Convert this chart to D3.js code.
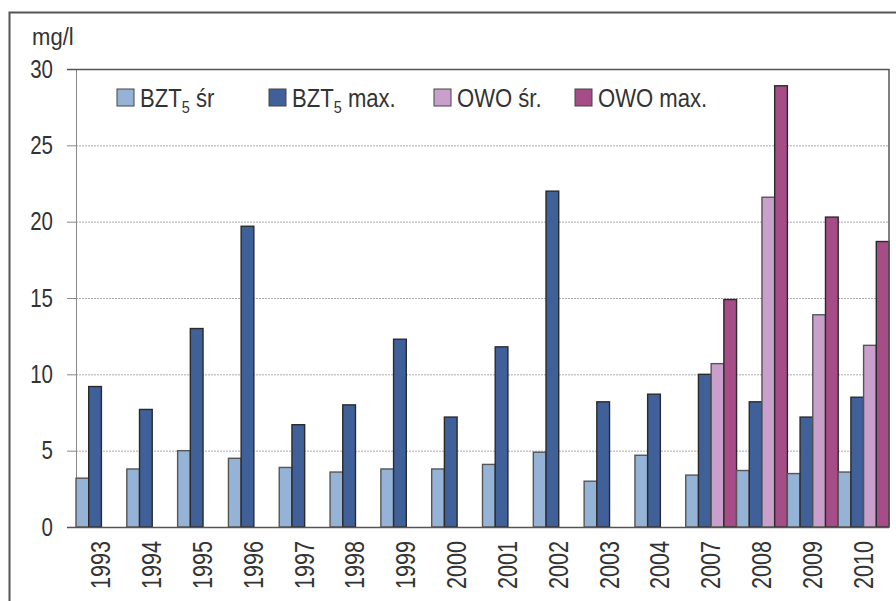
<!DOCTYPE html>
<html>
<head>
<meta charset="utf-8">
<script src="https://cdn.jsdelivr.net/npm/d3@7"></script>
<style>
  body { margin: 0; background: #fff; }
  text { font-family: "Liberation Sans", Arial, sans-serif; fill: #333; }
</style>
</head>
<body>
<script>
const width = 896;
const height = 601;

const years = ["1993", "1994", "1995", "1996", "1997", "1998", "1999", "2000",
  "2001", "2002", "2003", "2004", "2007", "2008", "2009", "2010"];
const bztAvg = [3.2, 3.8, 5.0, 4.5, 3.9, 3.6, 3.8, 3.8, 4.1, 4.9, 3.0, 4.7, 3.4, 3.7, 3.5, 3.6];
const bztMax = [9.2, 7.7, 13.0, 19.7, 6.7, 8.0, 12.3, 7.2, 11.8, 22.0, 8.2, 8.7, 10.0, 8.2, 7.2, 8.5];
const owoAvg = [null, null, null, null, null, null, null, null, null, null, null, null, 10.7, 21.6, 13.9, 11.9];
const owoMax = [null, null, null, null, null, null, null, null, null, null, null, null, 14.9, 28.9, 20.3, 18.7];
const yTicks = [0, 5, 10, 15, 20, 25, 30];

const series = [
  { key: "bztAvg", values: bztAvg, color: "#95b3d7", stroke: "#555", label: "BZT", sub: "5", rest: " śr" },
  { key: "bztMax", values: bztMax, color: "#40609a", stroke: "#2a2a2a", label: "BZT", sub: "5", rest: " max." },
  { key: "owoAvg", values: owoAvg, color: "#c9a0cc", stroke: "#555", label: "OWO śr.", sub: "", rest: "" },
  { key: "owoMax", values: owoMax, color: "#a64d87", stroke: "#2a2a2a", label: "OWO max.", sub: "", rest: "" }
];

const margin = { top: 69, right: 7, bottom: 74, left: 76 };
const narrow = 0.82; // Arial Narrow look from Liberation Sans

const x = d3.scaleBand()
  .domain(years)
  .range([margin.left, width - margin.right])
  .padding(0);

const xs = d3.scaleBand()
  .domain(series.map(d => d.key))
  .range([0, x.bandwidth()])
  .padding(0);

const y = d3.scaleLinear()
  .domain([0, 30])
  .range([height - margin.bottom, margin.top]);

const svg = d3.select("body")
  .append("svg")
  .attr("width", width)
  .attr("height", height);

// outer frame (cut at right and bottom)
svg.append("path")
  .attr("d", `M9.5,${height} V12.5 H${width}`)
  .attr("fill", "none")
  .attr("stroke", "#555")
  .attr("stroke-width", 2);

// gridlines
svg.append("g")
  .selectAll("line")
  .data(yTicks.filter(d => d > 0 && d < 30))
  .join("line")
  .attr("x1", margin.left)
  .attr("x2", width - margin.right)
  .attr("y1", d => y(d) + 0.5)
  .attr("y2", d => y(d) + 0.5)
  .attr("stroke", "#aaa")
  .attr("stroke-dasharray", "2,1");

// y axis
const yAxis = svg.append("g")
  .attr("transform", `translate(${margin.left},0)`)
  .call(d3.axisLeft(y).tickValues(yTicks).tickSize(9).tickPadding(14));
yAxis.select(".domain").attr("stroke", "#888");
yAxis.selectAll(".tick line").attr("stroke", "#888");
yAxis.selectAll(".tick text")
  .attr("font-size", 25)
  .attr("fill", "#333")
  .attr("font-family", "'Liberation Sans', Arial, sans-serif")
  .attr("transform", `scale(${narrow},1)`)
  .attr("x", -23 / narrow);

// bars
const groups = svg.append("g")
  .selectAll("g")
  .data(years.map((yr, i) => ({ yr, i })))
  .join("g")
  .attr("transform", d => `translate(${x(d.yr)},0)`);

groups.selectAll("rect")
  .data(d => series.map(s => ({ s, v: s.values[d.i] })).filter(e => e.v != null))
  .join("rect")
  .attr("x", d => xs(d.s.key))
  .attr("width", xs.bandwidth())
  .attr("y", d => y(d.v))
  .attr("height", d => y(0) - y(d.v))
  .attr("fill", d => d.s.color)
  .attr("stroke", d => d.s.stroke)
  .attr("stroke-width", 1.4);

// frame of plot: top, right, bottom
svg.append("path")
  .attr("d", `M${margin.left - 9},${y(30) + 0.5} H${width - margin.right} V${y(0)} M${margin.left - 9},${y(0) + 0.5} H${width - margin.right}`)
  .attr("fill", "none")
  .attr("stroke", "#555")
  .attr("stroke-width", 1.5);

// x labels
svg.append("g")
  .selectAll("text")
  .data(years)
  .join("text")
  .attr("transform", d => `translate(${x(d) + x.bandwidth() / 2 + 9},541) rotate(-90) scale(0.8,1)`)
  .attr("text-anchor", "end")
  .attr("font-size", 27)
  .text(d => d);

// unit
svg.append("text")
  .attr("transform", "translate(32,45) scale(0.92,1)")
  .attr("font-size", 24)
  .text("mg/l");

// legend
const legendX = [117, 269, 434, 575];
const legend = svg.append("g")
  .selectAll("g")
  .data(series)
  .join("g")
  .attr("transform", (d, i) => `translate(${legendX[i]},89)`);

legend.append("rect")
  .attr("width", 17)
  .attr("height", 17)
  .attr("fill", d => d.color)
  .attr("stroke", "#444")
  .attr("stroke-width", 1);

const lt = legend.append("text")
  .attr("transform", "translate(23,18) scale(0.85,1)")
  .attr("font-size", 26);
lt.append("tspan").text(d => d.label);
lt.append("tspan")
  .attr("font-size", 17)
  .attr("dy", 6)
  .text(d => d.sub);
lt.append("tspan")
  .attr("dy", d => d.sub ? -6 : 0)
  .text(d => d.rest);
</script>
</body>
</html>
